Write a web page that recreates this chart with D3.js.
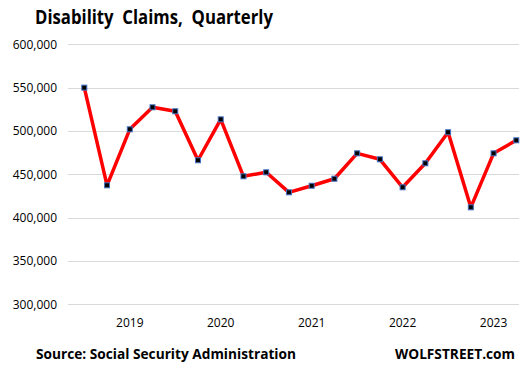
<!DOCTYPE html>
<html>
<head>
<meta charset="utf-8">
<script src="https://cdn.jsdelivr.net/npm/d3@7"></script>
<style>
  body { margin: 0; background: #fff; }
  svg { display: block; }
</style>
</head>
<body>
<div id="chart"></div>
<script>
// quarters from 2018 Q3 to 2023 Q2
const quarters = [
    '2018Q3', '2018Q4', '2019Q1', '2019Q2', '2019Q3', '2019Q4',
    '2020Q1', '2020Q2', '2020Q3', '2020Q4', '2021Q1', '2021Q2',
    '2021Q3', '2021Q4', '2022Q1', '2022Q2', '2022Q3', '2022Q4',
    '2023Q1', '2023Q2'
];
const claims = [
    550000, 437300, 501900, 527300, 522700, 466200,
    513400, 447700, 452300, 429200, 436800, 444900,
    474200, 467300, 435000, 462700, 498500, 411900,
    474200, 489200
];
const yTicks = [300000, 350000, 400000, 450000, 500000, 550000, 600000];
const yearLabels = { '2019Q1': '2019', '2020Q1': '2020', '2021Q1': '2021', '2022Q1': '2022', '2023Q1': '2023' };

const width = 525;
const height = 372;

const svg = d3.select('#chart')
    .append('svg')
    .attr('width', width)
    .attr('height', height);

const x = d3.scalePoint()
    .domain(quarters)
    .range([84.3, 516.3]);

const y = d3.scaleLinear()
    .domain([300000, 600000])
    .range([304.3, 44.3]);

// gridlines
svg.append('g')
    .selectAll('line')
    .data(yTicks)
    .join('line')
    .attr('x1', 68)
    .attr('x2', 519)
    .attr('y1', d => Math.round(y(d)) + 0.5)
    .attr('y2', d => Math.round(y(d)) + 0.5)
    .attr('stroke', '#d9d9d9')
    .attr('stroke-width', 1);

// y axis labels
const fmt = d3.format(',');
svg.append('g')
    .selectAll('text')
    .data(yTicks)
    .join('text')
    .attr('x', 57)
    .attr('y', d => y(d))
    .attr('dy', '0.35em')
    .attr('text-anchor', 'end')
    .style('font-family', '"Open Sans", sans-serif')
    .style('font-size', '12px')
    .attr('fill', '#000')
    .text(d => fmt(d));

// x axis year labels
svg.append('g')
    .selectAll('text')
    .data(quarters.filter(q => yearLabels[q]))
    .join('text')
    .attr('x', d => x(d))
    .attr('y', 327)
    .attr('text-anchor', 'middle')
    .style('font-family', '"Open Sans", sans-serif')
    .style('font-size', '12px')
    .attr('fill', '#000')
    .text(d => yearLabels[d]);

const data = quarters.map((q, i) => ({ q: q, v: claims[i] }));

// the line
const line = d3.line()
    .x(d => x(d.q))
    .y(d => y(d.v));

svg.append('path')
    .datum(data)
    .attr('d', line)
    .attr('fill', 'none')
    .attr('stroke', '#ff0000')
    .attr('stroke-width', 3.5)
    .attr('stroke-linejoin', 'round');

// markers
svg.append('g')
    .selectAll('rect')
    .data(data)
    .join('rect')
    .attr('x', d => x(d.q) - 2.5)
    .attr('y', d => y(d.v) - 2.5)
    .attr('width', 5)
    .attr('height', 5)
    .attr('fill', '#000')
    .attr('stroke', '#4472c4')
    .attr('stroke-width', 1);

// title (wide word gaps like the original)
svg.append('text')
    .attr('x', 35)
    .attr('y', 24)
    .attr('textLength', 238)
    .attr('lengthAdjust', 'spacingAndGlyphs')
    .style('white-space', 'pre')
    .style('font-family', '"Open Sans", sans-serif')
    .style('font-size', '19px')
    .style('font-weight', 'bold')
    .attr('fill', '#000')
    .text('Disability  Claims,  Quarterly');

// footer
svg.append('text')
    .attr('x', 36)
    .attr('y', 359)
    .attr('textLength', 260)
    .attr('lengthAdjust', 'spacingAndGlyphs')
    .style('font-family', '"Open Sans", sans-serif')
    .style('font-size', '14px')
    .style('font-weight', 'bold')
    .attr('fill', '#000')
    .text('Source: Social Security Administration');

svg.append('text')
    .attr('x', 515)
    .attr('y', 359)
    .attr('text-anchor', 'end')
    .attr('textLength', 120)
    .attr('lengthAdjust', 'spacingAndGlyphs')
    .style('font-family', '"Open Sans", sans-serif')
    .style('font-size', '14px')
    .style('font-weight', 'bold')
    .attr('fill', '#000')
    .text('WOLFSTREET.com');
</script>
</body>
</html>
